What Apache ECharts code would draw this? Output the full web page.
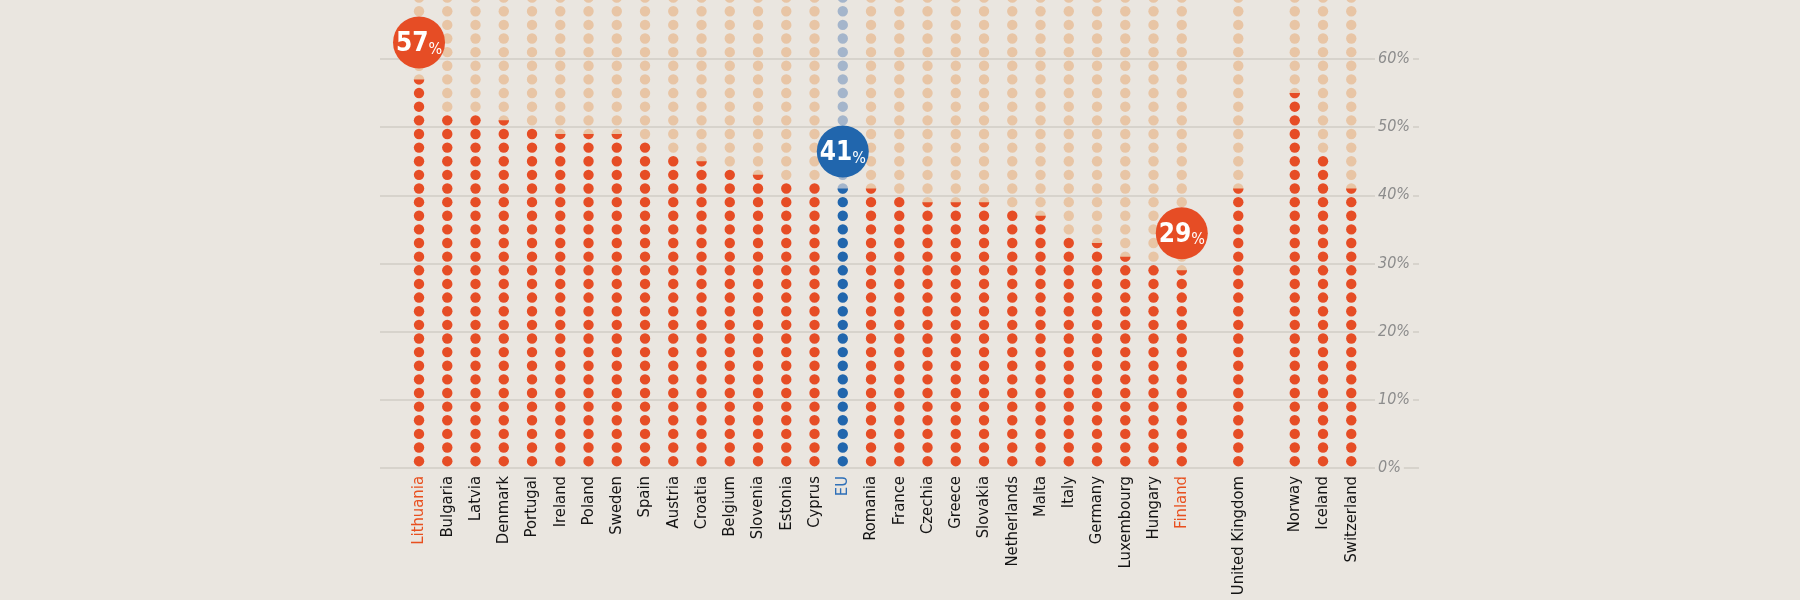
<!DOCTYPE html>
<html>
<head>
<meta charset="utf-8">
<script src="https://cdn.jsdelivr.net/npm/echarts@6/dist/echarts.min.js"></script>
<style>
html,body{margin:0;padding:0;background:#eae6e0;}
#chart{width:1800px;height:600px;}
</style>
</head>
<body>
<div id="chart"></div>
<script>
// ---- data ----
const categories = ['Lithuania','Bulgaria','Latvia','Denmark','Portugal','Ireland','Poland','Sweden','Spain','Austria','Croatia','Belgium','Slovenia','Estonia','Cyprus','EU','Romania','France','Czechia','Greece','Slovakia','Netherlands','Malta','Italy','Germany','Luxembourg','Hungary','Finland','','United Kingdom','','Norway','Iceland','Switzerland'];
const countries = ['Lithuania','Bulgaria','Latvia','Denmark','Portugal','Ireland','Poland','Sweden','Spain','Austria','Croatia','Belgium','Slovenia','Estonia','Cyprus','EU','Romania','France','Czechia','Greece','Slovakia','Netherlands','Malta','Italy','Germany','Luxembourg','Hungary','Finland','United Kingdom','Norway','Iceland','Switzerland'];
const shares = [57,52,52,51,50,49,49,49,48,46,45,44,43,42,42,41,41,40,39,39,39,38,37,34,33,31,30,29,41,55,46,41];
const highlighted = ['Lithuania','EU','Finland'];
const averageName = 'EU';
const yTickValues = [0,10,20,30,40,50,60,70];
const dotStep = 2;      // each dot = 2 %
const dotCount = 35;    // dots per column

// ---- style ----
const BG = '#eae6e0';
const RED = '#e64d25';
const PEACH = '#e8c5a5';
const BLUE = '#2166ad';
const BLUE_LIGHT = '#a4b5cb';
const FONT = "'Liberation Sans Narrow','Arial Narrow','DejaVu Sans Condensed',sans-serif";
const DOT_R = 5.2;
const BUBBLE_R = 26;
const BUBBLE_LIFT = 37;

function segmentPoints(cx, cy, r, yLine) {
  const s = Math.max(-1, Math.min(1, (yLine - cy) / r));
  const t0 = Math.asin(s), t1 = Math.PI - t0;
  const pts = [];
  const n = 28;
  for (let k = 0; k <= n; k++) {
    const t = t0 + (t1 - t0) * k / n;
    pts.push([cx + r * Math.cos(t), cy + r * Math.sin(t)]);
  }
  return pts;
}

function renderDots(params, api) {
  const ci = api.value(0);
  const v = api.value(1);
  const name = countries[params.dataIndex];
  const isAvg = name === averageName;
  const full = isAvg ? BLUE : RED;
  const empty = isAvg ? BLUE_LIGHT : PEACH;
  const yLine = api.coord([ci, v])[1];
  const children = [];
  for (let i = 0; i < dotCount; i++) {
    const c = api.coord([ci, i * dotStep + dotStep / 2]);
    const top = c[1] - DOT_R, bot = c[1] + DOT_R;
    if (yLine <= top) {
      children.push({type:'circle', shape:{cx:c[0], cy:c[1], r:DOT_R}, style:{fill:full}});
    } else if (yLine >= bot) {
      children.push({type:'circle', shape:{cx:c[0], cy:c[1], r:DOT_R}, style:{fill:empty}});
    } else {
      children.push({type:'circle', shape:{cx:c[0], cy:c[1], r:DOT_R}, style:{fill:empty}});
      children.push({type:'polygon', shape:{points:segmentPoints(c[0], c[1], DOT_R, yLine)}, style:{fill:full}});
    }
  }
  return {type:'group', children};
}

function renderBubble(params, api) {
  const p = api.coord([api.value(0), api.value(1)]);
  const name = bubbleData[params.dataIndex][0];
  const color = name === averageName ? BLUE : RED;
  const cy = p[1] - BUBBLE_LIFT;
  return {
    type:'group',
    children:[
      {type:'circle', shape:{cx:p[0], cy:cy, r:BUBBLE_R}, style:{fill:color}},
      {type:'text', x:p[0], y:cy + 1, style:{
        text:'{a|' + api.value(1) + '}{b|%}',
        align:'center', verticalAlign:'middle',
        rich:{
          a:{fontSize:26, fontWeight:'bold', fontFamily:FONT, fill:'#ffffff', color:'#ffffff', verticalAlign:'bottom', lineHeight:28},
          b:{fontSize:16, fontFamily:FONT, fill:'#ffffff', color:'#ffffff', verticalAlign:'bottom', lineHeight:22}
        }
      }}
    ]
  };
}

const dotData = countries.map((c, i) => [c, shares[i]]);
const bubbleData = countries.map((c, i) => [c, shares[i]]).filter(d => highlighted.includes(d[0]));

const chart = echarts.init(document.getElementById('chart'), null, {renderer:'canvas'});
chart.setOption({
  backgroundColor: BG,
  animation: false,
  grid: [
    {left: 404.9, right: 434.6, top: -9.2, bottom: 132, outerBoundsMode:'none', containLabel:false},
    {left: 380, right: 381, top: -9.2, bottom: 132, outerBoundsMode:'none', containLabel:false}
  ],
  xAxis: [
    {
      type:'category', gridIndex:0, data: categories,
      axisLine:{show:false}, axisTick:{show:false}, splitLine:{show:false},
      axisLabel:{
        interval:0, rotate:90, margin:8, fontSize:16.5, fontFamily:FONT,
        color:function(val){
          if (val === averageName) return '#2f70b8';
          if (val === 'Lithuania' || val === 'Finland') return '#e8501f';
          return '#141414';
        }
      }
    },
    {type:'value', gridIndex:1, min:0, max:1, show:false}
  ],
  yAxis: [
    {type:'value', gridIndex:0, min:yTickValues[0], max:yTickValues[yTickValues.length-1], show:false},
    {
      type:'value', gridIndex:1, position:'right',
      min:yTickValues[0], max:yTickValues[yTickValues.length-1], interval:10,
      axisLine:{show:false}, axisTick:{show:false},
      splitLine:{show:true, lineStyle:{color:'#d0ccc6', width:1.5}},
      axisLabel:{
        inside:true, align:'left', margin:44, formatter:'{value}%',
        color:'#8c8c8c', fontStyle:'italic', fontSize:16, fontFamily:FONT,
        backgroundColor:BG, padding:[0,3,0,3]
      }
    }
  ],
  series: [
    {type:'custom', xAxisIndex:0, yAxisIndex:0, data: dotData, renderItem: renderDots, z:2, clip:false},
    {type:'custom', xAxisIndex:0, yAxisIndex:0, data: bubbleData, renderItem: renderBubble, z:5, clip:false}
  ]
});
</script>
</body>
</html>
